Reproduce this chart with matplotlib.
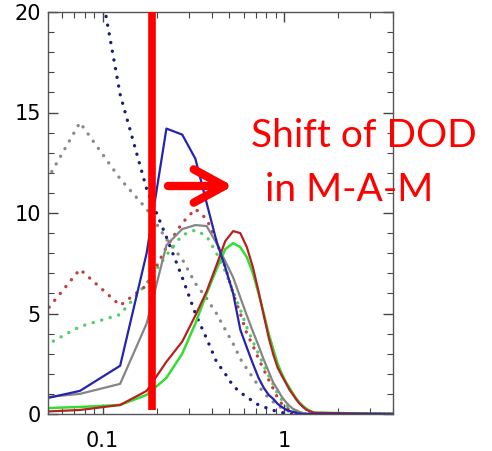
import numpy as np
import matplotlib
matplotlib.use("Agg")
import matplotlib.pyplot as plt
from matplotlib.ticker import LogLocator, MultipleLocator, FixedLocator, FixedFormatter

# bin centres of the DOD histogram (last point closes the lines at zero)
dod_bins = [0.025, 0.075, 0.125, 0.175, 0.225, 0.275, 0.325, 0.375, 0.425, 0.475,
            0.525, 0.575, 0.625, 0.675, 0.725, 0.775, 0.825, 0.875, 0.925, 0.975,
            1.025, 1.075, 1.125, 1.175, 1.225, 1.275, 1.325, 1.375, 1.425, 1.475, 4.0]

# solid lines
blue_solid = [0.2, 1.15, 2.4, 8.0, 14.2, 13.9, 12.7, 10.5, 8.6, 7.3,
              6.0, 4.2, 3.3, 2.5, 1.8, 1.3, 0.95, 0.75, 0.5, 0.35,
              0.22, 0.15, 0.1, 0.05, 0.02, 0, 0, 0, 0, 0, 0]
red_solid = [0.0, 0.2, 0.45, 1.15, 2.6, 3.6, 4.9, 6.1, 7.4, 8.6,
             9.1, 9.0, 8.3, 7.3, 6.1, 4.9, 3.8, 2.95, 2.3, 1.9,
             1.55, 1.2, 0.95, 0.7, 0.5, 0.35, 0.22, 0.15, 0.1, 0.06, 0]
green_solid = [0.2, 0.35, 0.45, 0.95, 1.8, 3.0, 4.5, 6.0, 7.2, 8.2,
               8.5, 8.3, 7.8, 7.0, 6.0, 5.0, 4.0, 3.2, 2.5, 2.0,
               1.6, 1.3, 1.0, 0.75, 0.55, 0.4, 0.28, 0.18, 0.12, 0.07, 0]
gray_solid = [0.6, 1.0, 1.5, 4.5, 8.4, 9.2, 9.4, 9.35, 8.5, 7.6,
              6.8, 5.8, 4.9, 4.1, 3.4, 2.7, 2.1, 1.55, 1.2, 0.85,
              0.6, 0.4, 0.25, 0.18, 0.1, 0.05, 0.02, 0, 0, 0, 0]

# dotted lines
blue_dot = [34, 27, 15.9, 11.2, 8.8, 6.8, 5.0, 3.75, 2.6, 2.0,
            1.4, 1.07, 0.85, 0.63, 0.45, 0.35, 0.27, 0.18, 0.12, 0.07,
            0.04, 0, 0, 0, 0, 0, 0, 0, 0, 0, 0]
gray_dot = [7.0, 14.5, 11.7, 10.2, 8.7, 7.7, 6.5, 5.75, 5.0, 4.2,
            3.5, 2.75, 2.25, 1.8, 1.4, 1.05, 0.8, 0.6, 0.42, 0.3,
            0.2, 0.12, 0.07, 0.03, 0, 0, 0, 0, 0, 0, 0]
red_dot = [1.9, 7.2, 5.4, 6.4, 8.3, 9.5, 10.2, 9.7, 8.6, 7.3,
           6.0, 5.0, 4.0, 3.4, 2.75, 2.2, 1.7, 1.25, 0.8, 0.5,
           0.32, 0.2, 0.12, 0.06, 0.02, 0, 0, 0, 0, 0, 0]
green_dot = [2.0, 4.35, 4.95, 6.5, 7.9, 8.9, 9.15, 8.85, 8.0, 7.1,
             6.1, 5.2, 4.3, 3.6, 3.0, 2.4, 1.9, 1.45, 1.0, 0.7,
             0.45, 0.3, 0.18, 0.1, 0.05, 0.02, 0, 0, 0, 0, 0]

shift_x = 0.188  # position of the red marker line

W, H = 492, 451
fig = plt.figure(figsize=(W / 100, H / 100), dpi=100)
ax = fig.add_axes([48 / W, 37 / H, 345 / W, 402 / H])

dots = (0, (0.05, 2.6))
for vals, col in [(gray_dot, "#8a8a8a"), (blue_dot, "#1c1c7a"),
                  (green_dot, "#4fd060"), (red_dot, "#c04040")]:
    ax.plot(dod_bins, vals, color=col, lw=2.4, linestyle=dots, dash_capstyle="round")

ax.plot(dod_bins, gray_solid, color="#858585", lw=1.6)
ax.plot(dod_bins, green_solid, color="#33dd33", lw=1.8)
ax.plot(dod_bins, red_solid, color="#b82020", lw=1.6)
ax.plot(dod_bins, blue_solid, color="#2424b0", lw=1.6)

ax.set_xscale("log")
ax.set_xlim(0.05, 4.0)
ax.set_ylim(0, 20)

ax.xaxis.set_major_locator(FixedLocator([0.1, 1]))
ax.xaxis.set_major_formatter(FixedFormatter(["0.1", "1"]))
ax.xaxis.set_minor_locator(LogLocator(base=10, subs=np.arange(2, 10), numticks=20))
ax.xaxis.set_minor_formatter(plt.NullFormatter())
ax.yaxis.set_major_locator(MultipleLocator(5))
ax.yaxis.set_minor_locator(MultipleLocator(1))

ax.tick_params(which="both", direction="in", top=True, right=True, color="#444444")
ax.tick_params(which="major", length=7, width=1)
ax.tick_params(which="minor", length=4, width=0.8)
ax.tick_params(axis="y", labelsize=15, pad=5)
ax.tick_params(axis="x", labelsize=15, pad=12)
for s in ax.spines.values():
    s.set_color("#555555")
    s.set_linewidth(1)

# overlay annotations
ax.plot([shift_x, shift_x], [0.2, 20], color="red", lw=5.5, solid_capstyle="butt",
        clip_on=False, zorder=5)
ax.annotate("", xy=(233, H - 186), xytext=(168, H - 186), xycoords="figure pixels",
            textcoords="figure pixels",
            arrowprops=dict(arrowstyle="->,head_length=0.55,head_width=0.3",
                            color="red", lw=6, mutation_scale=40,
                            shrinkA=0, shrinkB=0))
fig.text(251 / W, (H - 147) / H, "Shift of DOD", color="red", fontsize=28,
         family="Lato", ha="left", va="baseline")
fig.text(265 / W, (H - 201) / H, "in M-A-M", color="red", fontsize=28,
         family="Lato", ha="left", va="baseline")

fig.savefig("out.png", dpi=100)
